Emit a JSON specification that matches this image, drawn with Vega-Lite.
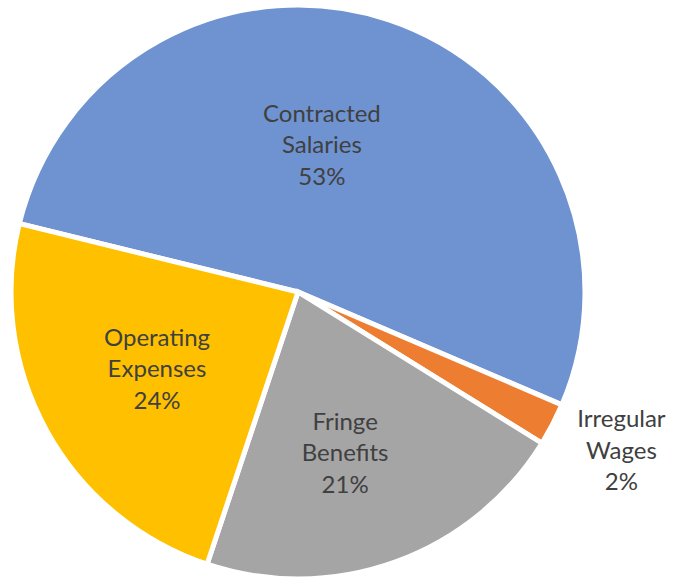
{
  "$schema": "https://vega.github.io/schema/vega-lite/v6.json",
  "width": 596,
  "height": 572,
  "autosize": {"type": "none"},
  "padding": {"left": 0, "top": 6, "right": 89, "bottom": 0},
  "background": "white",
  "view": {"stroke": null},
  "config": {"text": {"font": "Lato", "fontSize": 24, "fill": "#404040", "lineHeight": 31.5, "lineBreak": "\n", "align": "center", "baseline": "middle"}},
  "data": {
    "values": [
      {"Category": "Contracted Salaries", "Share": 52.6, "Rank": 1, "Label": "Contracted\nSalaries\n53%"},
      {"Category": "Irregular Wages", "Share": 2.4, "Rank": 2, "Label": "Irregular\nWages\n2%"},
      {"Category": "Fringe Benefits", "Share": 21.3, "Rank": 3, "Label": "Fringe\nBenefits\n21%"},
      {"Category": "Operating Expenses", "Share": 23.7, "Rank": 4, "Label": "Operating\nExpenses\n24%"}
    ]
  },
  "encoding": {
    "theta": {"field": "Share", "type": "quantitative", "stack": true, "scale": {"range": [-1.330, 4.953]}},
    "order": {"field": "Rank", "type": "quantitative"}
  },
  "layer": [
    {
      "mark": {"type": "arc", "outerRadius": 287, "stroke": "white", "strokeWidth": 5},
      "encoding": {
        "color": {
          "field": "Category",
          "type": "nominal",
          "scale": {
            "domain": ["Contracted Salaries", "Irregular Wages", "Fringe Benefits", "Operating Expenses"],
            "range": ["#6F93D1", "#ED7D31", "#A5A5A5", "#FFC000"]
          },
          "legend": null
        }
      }
    },
    {
      "mark": {"type": "text", "radius": 148, "dx": -23, "dy": -37},
      "encoding": {"text": {"condition": {"test": "datum.Category === 'Contracted Salaries'", "field": "Label", "type": "nominal"}, "value": ""}}
    },
    {
      "mark": {"type": "text", "radius": 360, "dx": 4, "dy": -38},
      "encoding": {"text": {"condition": {"test": "datum.Category === 'Irregular Wages'", "field": "Label", "type": "nominal"}, "value": ""}}
    },
    {
      "mark": {"type": "text", "radius": 168, "dx": -10, "dy": -27},
      "encoding": {"text": {"condition": {"test": "datum.Category === 'Fringe Benefits'", "field": "Label", "type": "nominal"}, "value": ""}}
    },
    {
      "mark": {"type": "text", "radius": 161, "dy": -31},
      "encoding": {"text": {"condition": {"test": "datum.Category === 'Operating Expenses'", "field": "Label", "type": "nominal"}, "value": ""}}
    }
  ]
}
